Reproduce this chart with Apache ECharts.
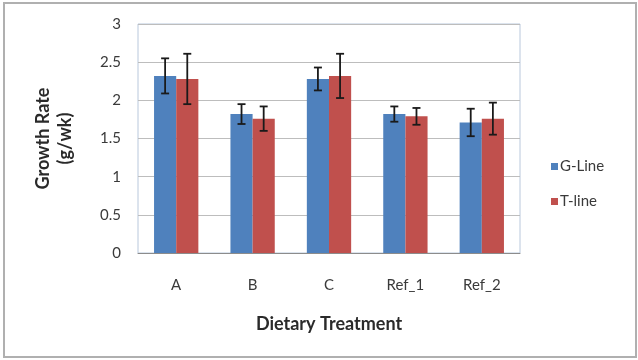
<!DOCTYPE html>
<html>
<head>
<meta charset="utf-8">
<script src="https://cdn.jsdelivr.net/npm/echarts@6/dist/echarts.min.js"></script>
<style>
html,body{margin:0;padding:0;background:#fff;}
#c{width:638px;height:360px;}
</style>
</head>
<body>
<div id="c"></div>
<script>
const categories = ['A', 'B', 'C', 'Ref_1', 'Ref_2'];
const gLine = [2.32, 1.82, 2.28, 1.82, 1.71];
const gErr = [0.23, 0.13, 0.15, 0.10, 0.18];
const tLine = [2.28, 1.76, 2.32, 1.79, 1.76];
const tErr = [0.33, 0.16, 0.29, 0.11, 0.21];
const yTicks = [0, 0.5, 1, 1.5, 2, 2.5, 3];

const BAR_FRAC = 0.29;
const FONT = 'Lato, "Open Sans", sans-serif';

function errSeries(name, values, errs, side) {
  return {
    type: 'custom',
    name: name + ' err',
    z: 10,
    silent: true,
    data: values.map((v, i) => [i, v - errs[i], v + errs[i]]),
    renderItem: function (params, api) {
      const idx = api.value(0);
      const lo = api.coord([idx, api.value(1)]);
      const hi = api.coord([idx, api.value(2)]);
      const bw = api.size([1, 0])[0] * BAR_FRAC;
      const x = lo[0] + side * bw / 2;
      const cap = 4;
      const style = { stroke: '#1a1a1a', lineWidth: 1.8 };
      return {
        type: 'group',
        children: [
          { type: 'line', shape: { x1: x, y1: hi[1], x2: x, y2: lo[1] }, style: style },
          { type: 'line', shape: { x1: x - cap, y1: hi[1], x2: x + cap, y2: hi[1] }, style: style },
          { type: 'line', shape: { x1: x - cap, y1: lo[1], x2: x + cap, y2: lo[1] }, style: style }
        ]
      };
    }
  };
}

const chart = echarts.init(document.getElementById('c'), null, { renderer: 'canvas' });
chart.setOption({
  animation: false,
  backgroundColor: '#ffffff',
  textStyle: { fontFamily: FONT },
  graphic: [{
    type: 'rect',
    shape: { x: 4, y: 3, width: 632, height: 354 },
    style: { fill: 'none', stroke: '#b0b0b0', lineWidth: 2 },
    silent: true
  }],
  grid: {
    left: 138, right: 118, top: 24, bottom: 107,
    show: true, borderColor: '#b9c8dc', borderWidth: 1, backgroundColor: 'transparent'
  },
  legend: {
    orient: 'vertical',
    left: 546, top: 154,
    itemWidth: 7, itemHeight: 7, itemGap: 20,
    icon: 'rect',
    textStyle: { fontSize: 15, color: '#3a3a3a', fontFamily: FONT, padding: [0, 0, 0, -3] },
    data: ['G-Line', 'T-line']
  },
  xAxis: {
    type: 'category',
    data: categories,
    axisLine: { lineStyle: { color: '#8c8c8c' } },
    axisTick: { show: false },
    axisLabel: { margin: 25, fontSize: 15, color: '#3a3a3a', fontFamily: FONT },
    name: 'Dietary Treatment',
    nameLocation: 'middle',
    nameGap: 62,
    nameTextStyle: { fontSize: 18, fontWeight: 'bold', color: '#2a2a2a', fontFamily: FONT }
  },
  yAxis: {
    type: 'value',
    min: yTicks[0], max: yTicks[yTicks.length - 1], interval: 0.5,
    axisLine: { show: false },
    axisTick: { show: false },
    splitLine: { lineStyle: { color: '#bdbdbd', width: 1 } },
    axisLabel: { margin: 17, fontSize: 15, color: '#3a3a3a', fontFamily: FONT },
    name: 'Growth Rate\n(g/wk)',
    nameLocation: 'middle',
    nameGap: 62,
    nameTextStyle: { fontSize: 18, fontWeight: 'bold', color: '#2a2a2a', fontFamily: FONT, lineHeight: 22 }
  },
  series: [
    {
      type: 'bar', name: 'G-Line', data: gLine,
      barWidth: (BAR_FRAC * 100) + '%', barGap: '0%',
      itemStyle: { color: '#4f81bd' }
    },
    {
      type: 'bar', name: 'T-line', data: tLine,
      barWidth: (BAR_FRAC * 100) + '%', barGap: '0%',
      itemStyle: { color: '#c0504d' }
    },
    errSeries('G-Line', gLine, gErr, -1),
    errSeries('T-line', tLine, tErr, 1)
  ]
});
</script>
</body>
</html>
